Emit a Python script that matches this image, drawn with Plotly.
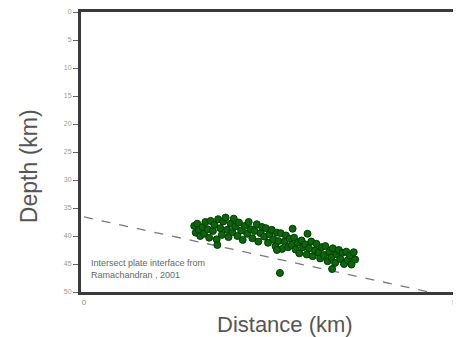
import plotly.graph_objects as go

# Earthquake hypocentres: distance (km) and depth (km)
dist_km = [
    14.8, 15.0, 15.2, 15.4, 15.6, 15.9, 16.1, 16.3,
    16.6, 16.8, 17.0, 17.3, 17.5, 17.8, 18.0,
    18.3, 18.5, 18.7, 19.0, 19.2, 19.4, 19.7, 19.9, 17.9,
    20.1, 20.3, 20.6, 20.8, 21.1, 21.3, 21.6, 21.9,
    22.1, 22.4, 22.6, 22.9, 23.2, 23.4, 23.7, 23.9,
    24.2, 24.4, 24.7, 24.9, 25.2, 25.4, 25.7, 25.9,
    26.1, 26.4, 26.6, 26.9, 27.1, 27.4, 27.6, 27.9, 28.0, 25.9,
    28.2, 28.4, 28.7, 28.9, 29.2, 29.4, 29.7, 29.9, 30.0,
    30.2, 30.5, 30.7, 31.0, 31.2, 31.5, 31.7, 31.9,
    32.2, 32.4, 32.7, 32.9, 33.2, 33.4, 33.7, 33.9, 33.3,
    34.2, 34.4, 34.7, 34.9, 35.2, 35.4, 35.7, 35.9, 36.2, 36.4,
    26.3,
]
depth_km = [
    38.2, 39.4, 37.8, 38.9, 40.0, 38.4, 39.6, 37.5,
    38.8, 40.3, 37.3, 39.1, 38.0, 40.6, 37.0,
    38.6, 39.8, 37.4, 36.7, 38.9, 40.2, 37.8, 39.3, 41.6,
    36.9, 38.3, 40.0, 37.6, 39.0, 40.7, 38.2, 39.6,
    37.5, 38.8, 40.4, 39.1, 37.9, 41.0, 39.5, 38.4,
    40.1, 38.6, 41.2, 39.7, 38.9, 40.6, 41.8, 39.4,
    40.9, 39.5, 42.3, 41.0, 39.9, 42.0, 40.5, 41.6, 38.7, 42.5,
    40.3, 42.4, 41.2, 43.1, 40.8, 42.0, 41.5, 43.3, 39.6,
    42.2, 41.0, 43.6, 42.6, 41.4, 43.0, 44.0, 42.0,
    43.4, 41.8, 44.5, 42.9, 43.8, 42.2, 44.8, 43.3, 45.9,
    42.5, 44.1, 43.0, 45.0, 42.8, 44.3, 43.5, 45.1, 42.9, 44.2,
    46.6,
]

# Intersected plate interface (Ramachandran, 2001)
interface_dist = [0.0, 46.3]
interface_depth = [36.6, 50.0]

y_ticks = [0, 5, 10, 15, 20, 25, 30, 35, 40, 45, 50]
x_ticks = [0, 50]

FONT = "Arial, Liberation Sans, sans-serif"

fig = go.Figure()
fig.add_trace(go.Scatter(
    x=interface_dist, y=interface_depth, mode="lines",
    line=dict(color="#7a7a7a", width=1.3, dash="dash"),
    hoverinfo="skip", showlegend=False,
))
fig.add_trace(go.Scatter(
    x=dist_km, y=depth_km, mode="markers",
    marker=dict(size=7, color="#0b650b", line=dict(color="#053a05", width=1)),
    showlegend=False,
))

fig.add_annotation(
    x=0.7, y=43.5, xref="x", yref="y", xanchor="left", yanchor="top",
    text="Intersect plate interface from<br>Ramachandran , 2001",
    showarrow=False, align="left",
    font=dict(family=FONT, size=9, color="#666"),
)
fig.add_annotation(
    xref="paper", yref="paper", x=(285 - 80) / 381, y=-(322 - 290) / 280,
    xanchor="center", yanchor="middle", showarrow=False,
    text="Distance (km)",
    font=dict(family=FONT, size=22, color="#555"),
)
fig.add_annotation(
    xref="paper", yref="paper", x=-(80 - 28) / 381, y=(290 - 164) / 280,
    xanchor="center", yanchor="middle", showarrow=False, textangle=-90,
    text="Depth (km)",
    font=dict(family=FONT, size=23, color="#555"),
)

# page body has an 8px default margin, so the figure is sized to fit the window
fig.update_layout(
    width=453, height=329,
    margin=dict(l=73, r=0, t=4, b=45, autoexpand=False),
    paper_bgcolor="white", plot_bgcolor="white",
    font=dict(family=FONT, color="#888", size=7),
)
fig.update_xaxes(
    range=[-0.4, 50.6], tickvals=x_ticks, ticktext=[str(v) for v in x_ticks],
    showgrid=False, zeroline=False, showline=True, linewidth=3, linecolor="#3a3a3a",
    mirror=True, ticks="", tickfont=dict(size=8, color="#888"), automargin=False,
    ticklabeloverflow="allow",
)
fig.update_yaxes(
    range=[50, 0], tickvals=y_ticks, ticktext=[str(v) for v in y_ticks],
    showgrid=False, zeroline=False, showline=True, linewidth=3, linecolor="#3a3a3a",
    ticks="outside", ticklen=5, tickwidth=1, tickcolor="#666",
    tickfont=dict(size=7, color="#999"), automargin=False,
    ticklabeloverflow="allow",
)

fig.write_html("out.html")
